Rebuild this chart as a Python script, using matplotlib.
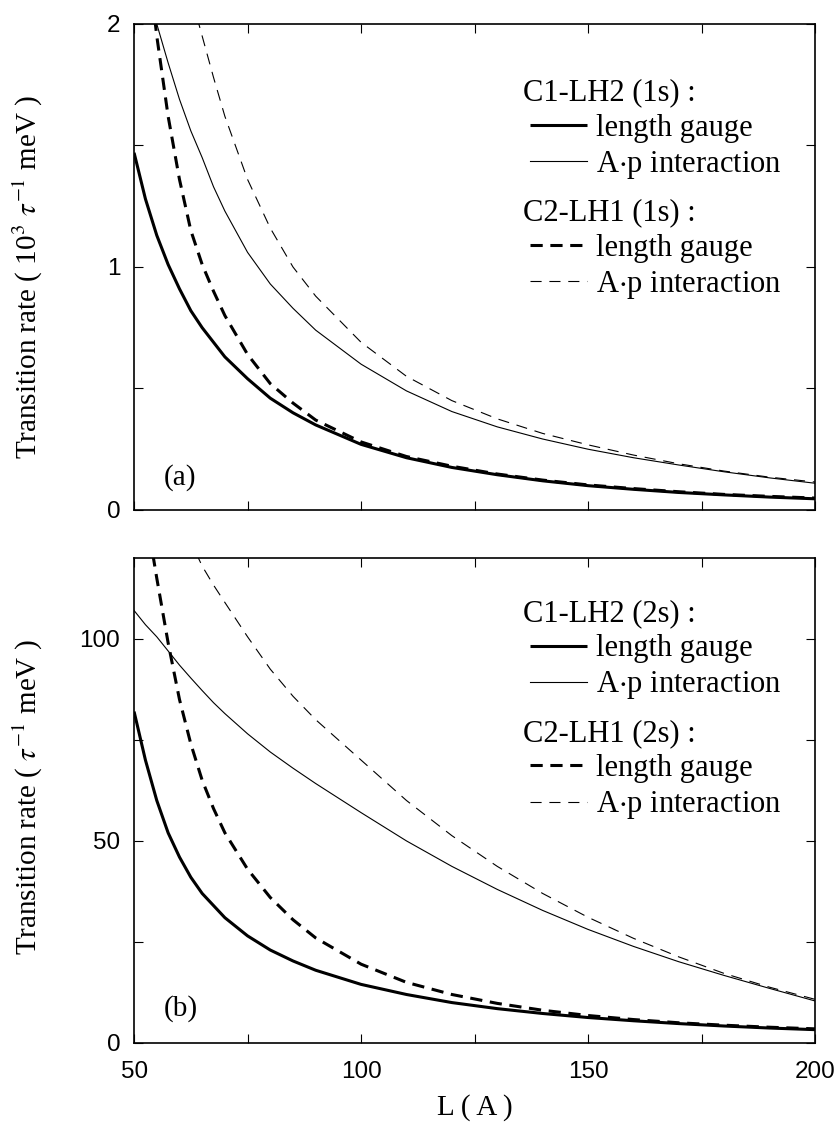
import numpy as np
import matplotlib
matplotlib.use("Agg")
import matplotlib.pyplot as plt
from matplotlib.ticker import MultipleLocator

plt.rcParams['font.family'] = 'Liberation Serif'
plt.rcParams['mathtext.fontset'] = 'stix'

# well width L (A)
L = [50, 52.5, 55, 57.5, 60, 62.5, 65, 67.5, 70, 75, 80, 85, 90, 100,
     110, 120, 130, 140, 150, 160, 170, 180, 190, 200]

# (a) 1s exciton, units of 10^3 tau^-1 meV
c1_len_1s = [1.47, 1.28, 1.13, 1.01, 0.91, 0.82, 0.75, 0.69, 0.63, 0.54, 0.46, 0.40,
             0.35, 0.27, 0.215, 0.175, 0.145, 0.12, 0.10, 0.085, 0.072, 0.062, 0.053, 0.046]
c1_ap_1s = [2.43, 2.2, 2.0, 1.84, 1.69, 1.56, 1.45, 1.33, 1.23, 1.06, 0.93, 0.83,
            0.74, 0.60, 0.49, 0.405, 0.342, 0.292, 0.25, 0.215, 0.185, 0.157, 0.132, 0.11]
c2_len_1s = [2.85, 2.35, 1.95, 1.62, 1.36, 1.15, 1.01, 0.90, 0.80, 0.64, 0.52, 0.44,
             0.37, 0.28, 0.22, 0.18, 0.148, 0.123, 0.103, 0.088, 0.075, 0.064, 0.056, 0.049]
c2_ap_1s = [3.5, 3.1, 2.8, 2.55, 2.35, 2.12, 1.95, 1.78, 1.62, 1.36, 1.16, 1.0,
            0.88, 0.69, 0.55, 0.45, 0.375, 0.315, 0.268, 0.226, 0.19, 0.16, 0.135, 0.115]

# (b) 2s exciton, units of tau^-1 meV
c1_len_2s = [82, 70, 60, 52, 46, 41, 37, 34, 31, 26.5, 23, 20.3, 18, 14.5,
             12, 10, 8.5, 7.3, 6.3, 5.5, 4.8, 4.2, 3.7, 3.3]
c1_ap_2s = [107, 103.5, 100.5, 97, 93.5, 90.3, 87.2, 84.2, 81.5, 76.5, 72, 68, 64.2, 57,
            50, 43.7, 38, 32.8, 28.1, 23.9, 20.1, 16.7, 13.5, 10.4]
c2_len_2s = [150, 132, 115, 99, 85, 74, 65, 58, 52, 43, 36, 30.5, 26, 19.5,
             15, 12, 9.8, 8.1, 6.8, 5.8, 5, 4.4, 3.9, 3.5]
c2_ap_2s = [175, 160, 148, 138, 130, 124, 118, 113.3, 109, 100.5, 92.5, 85.8, 80, 70,
            60, 51.3, 43.7, 37, 31.1, 25.9, 21.3, 17.2, 13.8, 10.8]

thick, thin = 2.2, 0.8
dash_thick = (0, (4, 2.5))
dash_thin = (0, (10, 7))

fig = plt.figure(figsize=(8.38, 11.3), dpi=100)
ax1 = fig.add_axes([0.160, 0.5487, 0.8126, 0.4301])
ax2 = fig.add_axes([0.160, 0.0770, 0.8126, 0.4292])


def draw_panel(ax, len1, ap1, len2, ap2, tag, ymax, ymajor, yminor, leg_y):
    l1, = ax.plot(L, len1, color='black', lw=thick, solid_capstyle='butt')
    a1, = ax.plot(L, ap1, color='black', lw=thin)
    l2, = ax.plot(L, len2, color='black', lw=thick, ls=dash_thick)
    a2, = ax.plot(L, ap2, color='black', lw=thin, ls=dash_thin)
    ax.set_xlim(50, 200)
    ax.set_ylim(0, ymax)
    ax.xaxis.set_major_locator(MultipleLocator(50))
    ax.xaxis.set_minor_locator(MultipleLocator(25))
    ax.yaxis.set_major_locator(MultipleLocator(ymajor))
    ax.yaxis.set_minor_locator(MultipleLocator(yminor))
    ax.tick_params(which='both', direction='in', top=True, right=True,
                   length=6.2, width=0.8, labelsize=17.5, pad=10)
    ax.tick_params(axis='x', pad=13)
    for lab in ax.get_xticklabels() + ax.get_yticklabels():
        lab.set_family('Liberation Sans')
    for s in ax.spines.values():
        s.set_linewidth(1.2)

    leg_kw = dict(frameon=False, loc='upper left', fontsize=22, title_fontsize=22,
                  alignment='left', borderpad=0, borderaxespad=0,
                  handlelength=1.86, handletextpad=0.3, labelspacing=0.2)
    labels = ['length gauge', 'A$\\cdot$p interaction']
    leg1 = ax.legend([l1, a1], labels, title='C1-LH2 (%s) :' % tag,
                     bbox_to_anchor=(0.5815, leg_y[0]), **leg_kw)
    leg1.get_title().set_position((-7, 0))
    ax.add_artist(leg1)
    leg2 = ax.legend([l2, a2], labels, title='C2-LH1 (%s) :' % tag,
                     bbox_to_anchor=(0.5815, leg_y[1]), **leg_kw)
    leg2.get_title().set_position((-7, 0))


draw_panel(ax1, c1_len_1s, c1_ap_1s, c2_len_1s, c2_ap_1s, '1s', 2, 1, 0.5, (0.8878, 0.6409))
draw_panel(ax2, c1_len_2s, c1_ap_2s, c2_len_2s, c2_ap_2s, '2s', 120, 50, 25, (0.915, 0.668))

ax1.tick_params(labelbottom=False)
ax1.text(0.043, 0.066, '(a)', transform=ax1.transAxes, fontsize=21, va='center')
ax2.text(0.043, 0.072, '(b)', transform=ax2.transAxes, fontsize=21, va='center')

ax1.set_ylabel('Transition rate ( 10$^3$ $\\tau^{-1}$ meV )', fontsize=21)
ax2.set_ylabel('Transition rate ( $\\tau^{-1}$ meV )', fontsize=21)
ax1.yaxis.set_label_coords(-0.131, 0.48)
ax2.yaxis.set_label_coords(-0.131, 0.508)
ax2.set_xlabel('L ( A )', fontsize=21, labelpad=8)

fig.savefig('out.png', dpi=100)
